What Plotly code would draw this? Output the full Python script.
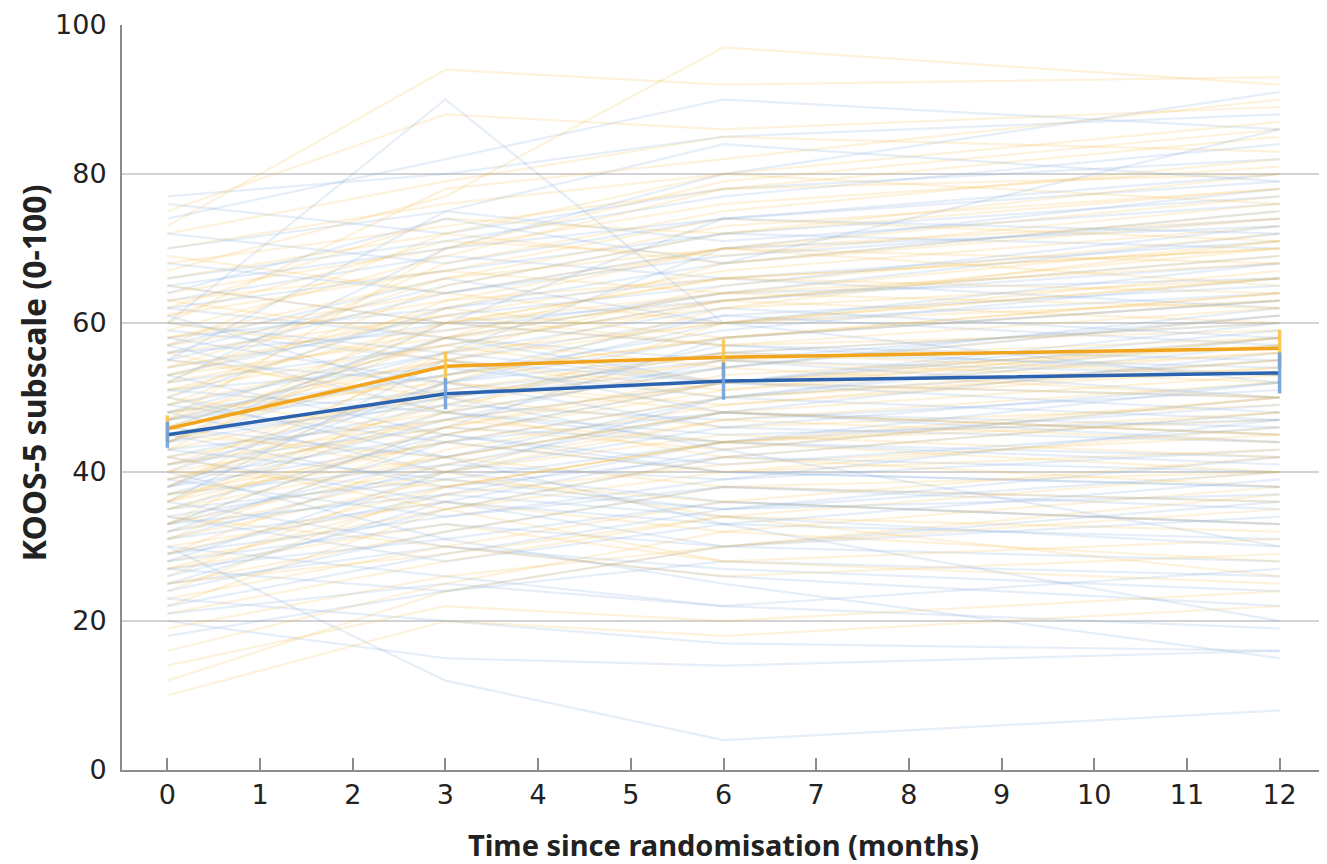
import plotly.graph_objects as go

months = [0, 3, 6, 12]

# Individual trajectories (values at months 0, 3, 6, 12), read approximately
blue_trajectories = [
    [77, 80, 85, 88], [76, 72, 78, 82], [74, 82, 90, 86], [72, 68, 74, 79],
    [70, 75, 71, 76], [68, 64, 70, 73], [66, 71, 77, 84], [65, 60, 63, 68],
    [63, 69, 66, 71], [62, 58, 55, 61], [60, 90, 60, 64], [59, 55, 52, 50],
    [58, 62, 68, 75], [57, 48, 44, 42], [56, 65, 72, 70], [55, 52, 58, 63],
    [54, 60, 57, 55], [53, 45, 40, 38], [52, 57, 63, 69], [51, 54, 50, 58],
    [50, 62, 66, 62], [49, 44, 48, 46], [48, 53, 59, 66], [48, 40, 36, 33],
    [47, 51, 55, 53], [46, 58, 64, 72], [45, 49, 47, 51], [45, 38, 42, 40],
    [44, 55, 61, 57], [43, 47, 52, 60], [42, 36, 30, 28], [42, 50, 56, 54],
    [41, 46, 44, 49], [40, 52, 60, 68], [39, 34, 38, 36], [38, 44, 50, 47],
    [38, 48, 54, 62], [37, 41, 39, 43], [36, 30, 27, 24], [35, 45, 52, 58],
    [34, 40, 46, 44], [34, 28, 33, 31], [33, 42, 48, 56], [32, 38, 35, 40],
    [31, 36, 43, 50], [30, 12, 4, 8], [30, 26, 22, 19], [29, 37, 44, 41],
    [28, 33, 30, 36], [27, 24, 28, 26], [26, 35, 42, 48], [25, 30, 26, 22],
    [24, 32, 38, 35], [23, 20, 17, 16], [22, 29, 35, 42], [21, 25, 22, 27],
    [18, 24, 30, 34], [20, 15, 14, 16], [52, 70, 80, 91], [47, 56, 70, 78],
    [40, 31, 25, 15], [57, 66, 60, 52], [36, 55, 48, 44], [61, 50, 43, 30],
    [44, 60, 74, 80], [33, 46, 58, 63], [55, 75, 84, 79], [50, 42, 33, 20],
    [28, 40, 50, 57], [64, 74, 68, 86],
    [65, 70, 74, 72], [58, 52, 56, 60], [53, 61, 65, 73], [49, 56, 52, 48],
    [46, 42, 50, 55], [44, 50, 54, 61], [41, 49, 57, 53], [39, 45, 41, 46],
    [37, 47, 55, 50], [35, 39, 44, 52], [33, 37, 34, 30], [31, 41, 48, 45],
    [29, 34, 39, 47], [27, 31, 36, 33], [25, 36, 33, 39], [62, 67, 72, 77],
    [56, 59, 64, 66], [51, 48, 45, 47], [47, 53, 61, 65], [43, 39, 35, 37],
    [55, 64, 69, 74], [60, 56, 62, 58], [38, 52, 46, 52], [32, 44, 40, 38],
    [48, 58, 52, 59],
]

orange_trajectories = [
    [75, 88, 86, 89], [73, 94, 92, 93], [72, 79, 85, 83], [70, 76, 80, 87],
    [69, 64, 70, 74], [67, 77, 97, 92], [66, 72, 68, 75], [64, 70, 76, 81],
    [63, 58, 62, 66], [62, 74, 72, 78], [61, 67, 74, 71], [60, 55, 50, 54],
    [59, 69, 78, 85], [58, 64, 60, 63], [57, 72, 80, 76], [56, 61, 67, 73],
    [55, 50, 46, 49], [54, 66, 70, 68], [53, 62, 58, 64], [52, 68, 75, 82],
    [51, 57, 63, 60], [50, 45, 52, 57], [49, 63, 66, 70], [48, 55, 60, 67],
    [48, 52, 48, 45], [47, 60, 64, 62], [46, 58, 68, 74], [45, 50, 55, 52],
    [45, 42, 38, 40], [44, 56, 60, 66], [43, 60, 57, 59], [42, 48, 54, 61],
    [41, 52, 49, 55], [40, 38, 44, 47], [40, 55, 63, 69], [39, 47, 52, 50],
    [38, 53, 58, 64], [37, 44, 40, 43], [36, 50, 56, 60], [35, 42, 48, 53],
    [34, 30, 36, 33], [33, 46, 52, 58], [32, 40, 45, 42], [31, 45, 51, 56],
    [30, 36, 32, 38], [29, 43, 49, 54], [28, 35, 40, 46], [27, 33, 28, 31],
    [26, 40, 47, 52], [25, 32, 38, 36], [24, 38, 44, 50], [23, 30, 26, 29],
    [22, 35, 42, 48], [21, 28, 34, 32], [19, 26, 30, 37], [16, 25, 32, 28],
    [14, 22, 20, 24], [12, 24, 30, 35], [10, 20, 18, 22], [50, 65, 72, 80],
    [44, 62, 70, 77], [38, 56, 65, 72], [56, 48, 42, 38], [47, 70, 79, 86],
    [42, 35, 28, 25], [53, 58, 54, 50], [36, 48, 60, 66], [60, 78, 82, 90],
    [33, 52, 62, 71], [46, 40, 34, 26],
    [68, 73, 78, 80], [65, 60, 66, 70], [61, 71, 69, 76], [57, 63, 70, 65],
    [54, 61, 57, 62], [51, 60, 66, 64], [49, 57, 52, 56], [46, 53, 58, 63],
    [43, 51, 56, 53], [41, 47, 44, 48], [39, 49, 55, 58], [37, 42, 48, 45],
    [35, 46, 43, 50], [33, 41, 47, 44], [31, 39, 36, 42], [29, 38, 44, 40],
    [27, 37, 41, 45], [25, 29, 34, 40], [58, 66, 73, 78], [52, 59, 63, 70],
    [47, 55, 51, 58], [44, 58, 64, 68], [40, 46, 53, 57], [36, 44, 50, 55],
    [63, 67, 64, 71],
]

# Group means and half-widths of confidence intervals
orange_mean = [45.8, 54.2, 55.4, 56.6]
orange_ci = [1.8, 2.0, 2.4, 2.5]
blue_mean = [45.0, 50.5, 52.2, 53.3]
blue_ci = [1.75, 2.1, 2.5, 2.75]

x_ticks = list(range(0, 13))
y_ticks = [0, 20, 40, 60, 80, 100]

ORANGE = "#F2A41C"
BLUE = "#2B63B0"
ORANGE_ERR = "rgba(250,196,70,0.9)"
BLUE_ERR = "rgba(110,160,218,0.9)"
ORANGE_THIN = "rgba(244,192,80,0.2)"
BLUE_THIN = "rgba(130,170,218,0.2)"

fig = go.Figure()

n = max(len(blue_trajectories), len(orange_trajectories))
for i in range(n):
    if i < len(blue_trajectories):
        fig.add_trace(go.Scatter(x=months, y=blue_trajectories[i], mode="lines",
                                 line=dict(color=BLUE_THIN, width=2.2),
                                 hoverinfo="skip", showlegend=False))
    if i < len(orange_trajectories):
        fig.add_trace(go.Scatter(x=months, y=orange_trajectories[i], mode="lines",
                                 line=dict(color=ORANGE_THIN, width=2.2),
                                 hoverinfo="skip", showlegend=False))

# Mean lines with confidence bars
fig.add_trace(go.Scatter(x=months, y=orange_mean, mode="lines",
                         line=dict(color=ORANGE, width=3.5), showlegend=False))
fig.add_trace(go.Scatter(x=months, y=orange_mean, mode="markers",
                         marker=dict(size=0.1, color=ORANGE_ERR),
                         error_y=dict(type="data", array=orange_ci, color=ORANGE_ERR,
                                      thickness=3.5, width=0),
                         showlegend=False))
fig.add_trace(go.Scatter(x=months, y=blue_mean, mode="lines",
                         line=dict(color=BLUE, width=3.5), showlegend=False))
fig.add_trace(go.Scatter(x=months, y=blue_mean, mode="markers",
                         marker=dict(size=0.1, color=BLUE_ERR),
                         error_y=dict(type="data", array=blue_ci, color=BLUE_ERR,
                                      thickness=3.5, width=0),
                         showlegend=False))

FONT = "Noto Sans"
TICKFONT = "DejaVu Sans"

fig.update_layout(
    width=1319, height=856,
    margin=dict(l=114, r=2, t=17, b=94),
    paper_bgcolor="white", plot_bgcolor="white",
    font=dict(family=FONT, color="#222222", size=27),
)

fig.update_xaxes(
    range=[-0.49, 12.49], tickvals=x_ticks, ticktext=[str(v) for v in x_ticks],
    showgrid=False, zeroline=False, automargin=False,
    showline=True, linecolor="#8c8c8c", linewidth=2,
    ticks="inside", ticklen=12, tickwidth=2, tickcolor="#8c8c8c",
    tickfont=dict(size=27, family=TICKFONT, color="#222222"),
    ticklabelstandoff=0,
    title=dict(text="<b>Time since randomisation (months)</b>",
               font=dict(size=29, family=FONT, color="#222222"), standoff=30),
)
fig.update_yaxes(
    range=[0, 100], tickvals=y_ticks, ticktext=[str(v) for v in y_ticks],
    showgrid=True, gridcolor="#d3d3d3", gridwidth=2, zeroline=False,
    automargin=False,
    showline=True, linecolor="#8c8c8c", linewidth=2,
    ticks="", ticklabelstandoff=8,
    tickfont=dict(size=27, family=TICKFONT, color="#222222"),
)

# y-axis title as rotated annotation (sits slightly above the plot centre)
fig.add_annotation(
    text="<b>KOOS-5 subscale (0-100)</b>",
    xref="paper", yref="paper", x=-0.074, y=0.534,
    xanchor="center", yanchor="middle", textangle=-90, showarrow=False,
    borderpad=0,
    font=dict(size=32, family=FONT, color="#222222"),
)

fig.write_html("out.html")
